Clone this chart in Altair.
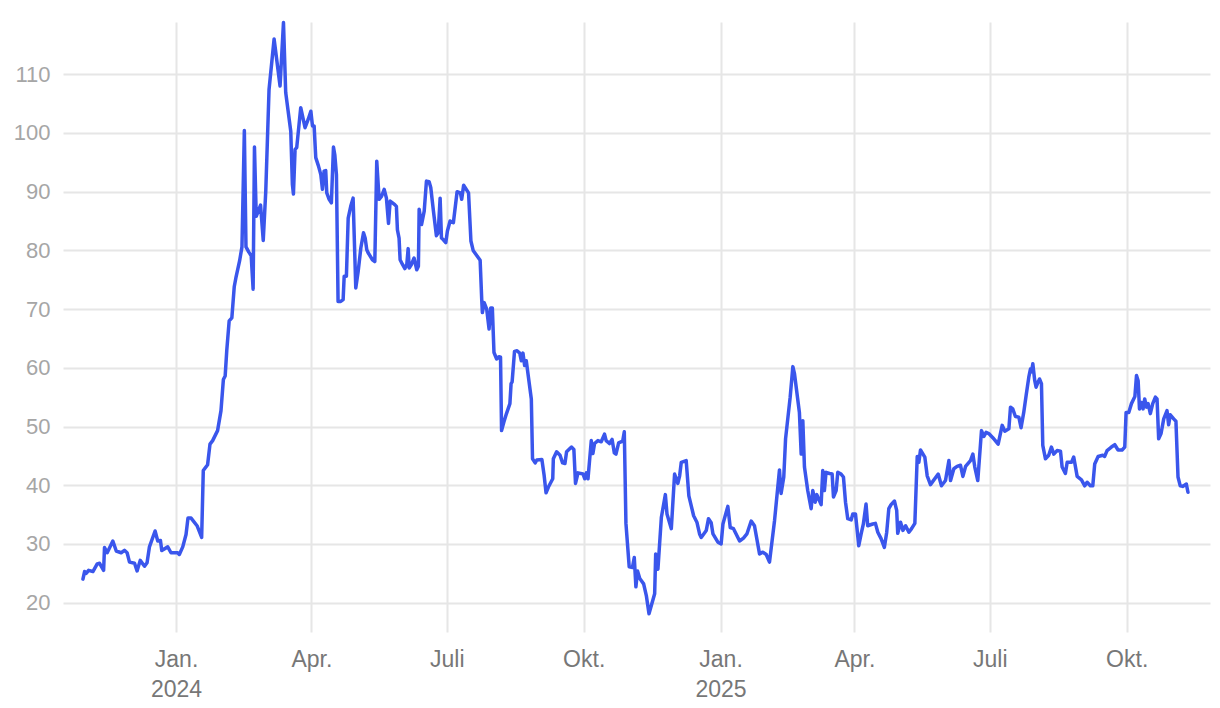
import altair as alt
import pandas as pd

# Days since 2024-01-01 (fractional) and the corresponding values
days = [
    -62.6, -61.5, -60.4, -58.8, -55.9, -53.0, -51.4, -48.7, -48.1, -46.3,
    -42.5, -40.2, -36.9, -34.7, -32.9, -31.3, -27.9, -26.2, -24.1, -21.2,
    -19.5, -17.9, -14.1, -12.3, -10.5, -9.6, -5.6, -3.4, 1.1, 2.2,
    4.5, 6.7, 8.0, 10.1, 14.1, 17.2, 18.3, 21.2, 22.8, 24.6,
    27.9, 30.2, 31.8, 33.0, 34.1, 35.7, 37.5, 39.1, 40.2, 42.7,
    44.3, 45.9, 47.0, 48.9, 50.5, 51.8, 52.7, 53.9, 56.8, 58.6,
    60.3, 62.5, 65.9, 69.9, 72.2, 73.7, 77.1, 78.2, 78.9, 80.0,
    81.1, 83.8, 86.7, 88.8, 90.6, 91.7, 92.8, 93.9, 95.7, 97.3,
    98.4, 99.5, 100.6, 101.3, 102.9, 104.4, 105.8, 106.7, 107.8, 108.9,
    110.7, 112.3, 113.0, 114.5, 115.7, 117.4, 119.0, 120.8, 122.4, 124.2,
    126.0, 127.1, 128.2, 129.1, 132.0, 133.6, 134.9, 136.5, 138.1, 139.9,
    141.4, 142.8, 143.9, 145.5, 147.0, 148.1, 148.8, 149.9, 150.6, 152.2,
    153.8, 155.1, 156.0, 156.7, 158.2, 160.0, 161.8, 162.9, 163.4, 165.0,
    166.8, 168.3, 170.1, 171.2, 173.0, 175.0, 176.2, 177.5, 178.4, 179.7,
    181.3, 182.4, 184.2, 186.4, 188.9, 191.1, 192.0, 193.3, 196.6, 198.2,
    199.7, 204.4, 205.5, 205.9, 207.1, 208.8, 210.4, 211.5, 212.6, 213.7,
    215.5, 217.0, 218.1, 218.8, 220.4, 222.1, 224.4, 225.2, 225.9, 227.5,
    229.2, 231.0, 232.1, 233.2, 234.3, 235.4, 238.8, 239.6, 241.4, 242.5,
    245.9, 247.4, 248.7, 250.3, 253.2, 253.6, 255.8, 258.1, 259.8, 261.4,
    262.5, 265.8, 267.4, 268.5, 270.2, 273.6, 274.7, 275.8, 276.9, 279.1,
    280.2, 281.3, 283.6, 285.8, 288.0, 289.1, 291.3, 293.1, 294.6, 295.7,
    297.5, 300.2, 301.3, 302.4, 304.6, 306.8, 308.0, 309.1, 310.2, 311.7,
    314.3, 316.1, 317.9, 321.7, 322.4, 323.9, 326.2, 328.9, 330.0, 332.9,
    335.1, 337.3, 338.5, 339.6, 342.9, 344.7, 347.9, 350.1, 351.9, 353.0,
    356.4, 357.9, 359.7, 360.9, 364.2, 366.4, 367.6, 370.9, 372.5, 374.7,
    378.8, 381.4, 383.7, 386.6, 388.8, 392.2, 394.4, 396.7, 398.9, 402.3,
    405.6, 406.7, 408.5, 409.7, 412.8, 414.6, 415.7, 419.0, 420.2, 421.3,
    422.4, 424.6, 426.9, 428.0, 429.6, 430.7, 433.6, 434.7, 435.8, 436.9,
    439.2, 441.0, 441.9, 443.7, 444.8, 447.0, 448.6, 450.0, 451.5, 453.8,
    454.9, 456.7, 458.9, 460.5, 462.0, 463.8, 464.9, 468.3, 470.1, 471.7,
    473.9, 476.1, 477.7, 479.1, 480.6, 482.9, 484.4, 485.1, 487.0, 488.6,
    490.4, 492.6, 494.4, 496.6, 498.2, 499.3, 500.4, 503.3, 504.9, 507.1,
    512.3, 514.5, 517.2, 519.5, 520.6, 522.8, 525.0, 527.3, 528.9, 530.7,
    534.0, 535.6, 536.9, 538.9, 541.4, 543.0, 544.5, 546.3, 549.0, 552.6,
    555.3, 557.1, 559.8, 560.9, 562.4, 564.2, 566.5, 568.0, 569.8, 571.4,
    573.2, 574.3, 575.0, 575.9, 577.2, 578.1, 579.5, 580.4, 581.7, 582.6,
    584.4, 586.6, 588.4, 590.0, 592.2, 594.5, 595.6, 597.8, 599.0, 601.9,
    603.4, 605.7, 608.6, 610.8, 612.4, 614.6, 616.2, 617.5, 619.8, 622.9,
    624.2, 625.8, 628.7, 631.0, 633.2, 635.9, 637.7, 638.6, 640.4, 642.2,
    644.5, 645.6, 646.7, 647.6, 648.9, 650.0, 651.1, 652.3, 653.4, 654.9,
    656.5, 658.3, 659.4, 660.5, 662.1, 663.9, 666.1, 667.2, 668.3, 670.6,
    672.1, 673.5, 675.0, 676.6, 679.1, 680.2,
]

values = [
    24.0, 25.3, 25.0, 25.5, 25.3, 26.6, 26.7, 25.5, 29.4, 28.5,
    30.5, 28.8, 28.5, 28.9, 28.5, 26.9, 26.7, 25.4, 27.2, 26.2,
    26.8, 29.5, 32.2, 30.5, 30.6, 28.9, 29.5, 28.5, 28.5, 28.2,
    29.5, 31.6, 34.4, 34.4, 33.1, 31.1, 42.5, 43.5, 47.0, 47.6,
    49.3, 52.7, 58.0, 58.6, 63.0, 68.0, 68.5, 73.8, 75.3, 78.2,
    80.6, 100.4, 80.6, 79.7, 79.1, 73.4, 97.6, 85.8, 87.7, 81.7,
    90.1, 107.4, 116.0, 108.0, 118.8, 106.9, 100.3, 91.2, 89.6, 97.2,
    97.5, 104.3, 100.9, 102.3, 103.7, 101.2, 101.2, 95.8, 94.4, 92.9,
    90.4, 93.5, 93.6, 89.8, 88.7, 88.1, 97.6, 96.3, 92.9, 71.3,
    71.3, 71.6, 75.6, 75.6, 85.5, 87.5, 88.9, 73.6, 76.4, 80.4,
    83.0, 82.1, 80.1, 79.6, 78.4, 78.1, 95.2, 88.7, 89.2, 90.4,
    88.9, 84.6, 88.4, 88.1, 87.8, 87.5, 83.5, 82.1, 78.4, 77.6,
    76.9, 77.6, 80.3, 77.0, 77.6, 78.7, 76.7, 77.3, 87.0, 84.4,
    86.7, 91.8, 91.7, 90.7, 86.7, 82.5, 83.0, 88.9, 82.1, 81.8,
    81.3, 83.3, 85.0, 84.7, 90.0, 89.8, 88.7, 91.1, 89.8, 81.6,
    80.0, 78.3, 71.4, 69.4, 71.1, 70.0, 66.6, 70.2, 70.2, 62.6,
    61.5, 61.9, 61.8, 49.3, 50.8, 52.2, 53.9, 57.3, 57.6, 62.8,
    62.9, 62.5, 61.2, 62.5, 60.4, 61.2, 54.7, 44.5, 43.8, 44.3,
    44.4, 41.7, 38.7, 39.7, 41.1, 44.5, 45.7, 45.1, 43.8, 43.7,
    45.7, 46.5, 46.1, 40.3, 42.1, 41.9, 41.1, 42.1, 41.1, 47.6,
    45.4, 47.1, 47.6, 47.4, 48.7, 47.6, 47.1, 47.8, 45.5, 45.3,
    47.2, 47.5, 49.1, 33.5, 26.1, 26.0, 27.7, 22.7, 25.4, 24.1,
    23.2, 21.2, 18.1, 21.5, 28.3, 25.7, 34.5, 38.4, 35.1, 32.6,
    41.9, 40.3, 41.6, 43.9, 44.2, 38.2, 34.8, 33.7, 31.7, 31.1,
    32.3, 34.3, 33.6, 31.7, 30.3, 30.0, 33.4, 36.4, 32.8, 32.6,
    30.5, 31.0, 31.7, 33.9, 33.1, 28.3, 28.6, 28.2, 26.9, 34.0,
    42.6, 38.6, 41.4, 47.9, 55.0, 60.2, 59.0, 52.4, 45.3, 51.0,
    43.1, 39.1, 36.0, 39.1, 37.1, 38.4, 36.7, 42.5, 39.1, 42.2,
    42.0, 41.9, 38.0, 39.1, 42.2, 41.9, 41.4, 37.1, 34.3, 34.1,
    35.1, 35.1, 29.7, 31.7, 33.4, 36.8, 33.1, 33.4, 33.5, 32.0,
    30.9, 29.4, 32.0, 36.0, 36.7, 37.3, 35.7, 31.8, 33.7, 32.3,
    33.1, 32.0, 32.6, 33.5, 44.9, 43.9, 46.0, 44.8, 41.6, 40.1,
    41.9, 39.9, 40.8, 44.2, 40.8, 42.8, 43.2, 43.4, 41.5, 43.2,
    44.2, 45.3, 43.1, 40.8, 49.3, 48.3, 49.0, 48.8, 48.1, 47.0,
    50.2, 49.2, 49.6, 53.3, 53.0, 51.7, 51.6, 49.8, 52.4, 55.3,
    58.4, 59.8, 59.3, 60.7, 57.8, 56.7, 57.6, 58.1, 57.3, 46.8,
    44.5, 45.1, 46.5, 45.3, 45.9, 45.8, 43.1, 42.0, 43.9, 43.9,
    44.8, 41.5, 40.9, 39.9, 40.5, 39.9, 39.9, 43.6, 44.9, 45.1,
    44.9, 45.9, 46.5, 46.9, 46.0, 46.0, 46.5, 52.4, 52.4, 53.9,
    55.1, 58.7, 57.8, 53.0, 54.1, 53.0, 54.7, 53.3, 53.9, 52.2,
    53.9, 55.0, 54.7, 47.9, 48.8, 51.3, 52.7, 50.3, 52.0, 51.3,
    50.9, 41.4, 39.9, 39.8, 40.2, 38.8,
]

tick_dates = [
    (2024, 1), (2024, 4), (2024, 7), (2024, 10),
    (2025, 1), (2025, 4), (2025, 7), (2025, 10),
]
y_ticks = [20, 30, 40, 50, 60, 70, 80, 90, 100, 110]

start = pd.Timestamp("2024-01-01")
df = pd.DataFrame({
    "date": start + pd.to_timedelta(pd.Series(days), unit="D"),
    "value": values,
})
df["date"] = df["date"].dt.strftime("%Y-%m-%dT%H:%M:%S")

x_values = [alt.DateTime(year=y, month=m, date=1) for y, m in tick_dates]

label_expr = (
    "month(datum.value) == 0 ? ['Jan.', timeFormat(datum.value, '%Y')] : "
    "month(datum.value) == 3 ? 'Apr.' : "
    "month(datum.value) == 6 ? 'Juli' : "
    "month(datum.value) == 9 ? 'Okt.' : ''"
)

font = "Liberation Sans"

chart = alt.Chart(df).mark_line(
    color="#3a56ec", strokeWidth=3.5, strokeJoin="round", strokeCap="round"
).encode(
    x=alt.X(
        "date:T",
        scale=alt.Scale(
            domain=[
                alt.DateTime(year=2023, month=10, date=17),
                alt.DateTime(year=2025, month=11, date=26),
            ],
            nice=False,
        ),
        axis=alt.Axis(
            values=x_values,
            labelExpr=label_expr,
            title=None,
            domain=False,
            ticks=False,
            tickSize=0,
            labelPadding=16,
            labelFontSize=23,
            labelColor="#777777",
            labelFont=font,
            labelLineHeight=30,
            labelBaseline="top",
            grid=True,
            gridColor="#e6e6e6",
            gridWidth=2,
        ),
    ),
    y=alt.Y(
        "value:Q",
        scale=alt.Scale(domain=[15, 118.9], nice=False, zero=False),
        axis=alt.Axis(
            values=y_ticks,
            title=None,
            domain=False,
            ticks=False,
            tickSize=0,
            labelPadding=13,
            labelFontSize=22,
            labelColor="#a6a6a6",
            labelFont=font,
            grid=True,
            gridColor="#e6e6e6",
            gridWidth=2,
        ),
    ),
).properties(
    width=1147,
    height=610,
    autosize=alt.AutoSizeParams(type="none"),
    padding={"left": 55, "top": 14, "right": 2, "bottom": 68},
).configure_view(
    stroke=None
)

chart.save("out.html", embed_options={"renderer": "svg", "actions": False})
